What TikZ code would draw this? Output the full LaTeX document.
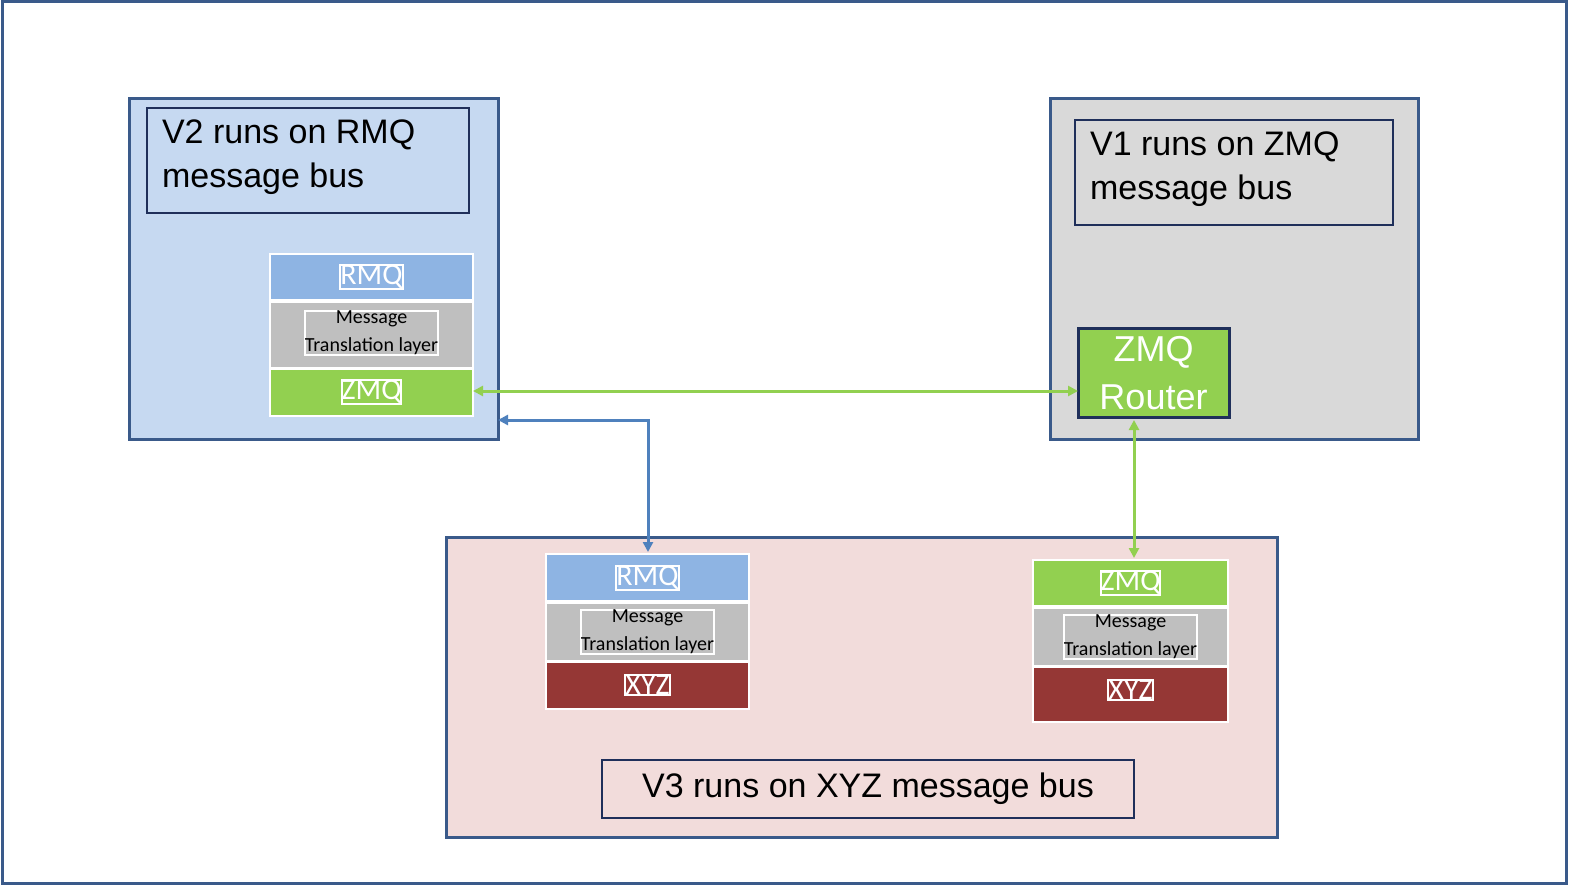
\documentclass[tikz,border=0pt]{standalone}
\usepackage{fontspec}
\setmainfont{Liberation Sans}
\newfontfamily\layerfont{Carlito}
\usetikzlibrary{arrows.meta}
\definecolor{frame}{HTML}{3A5A8A}
\definecolor{navy}{HTML}{1F2F5A}
\definecolor{vtwo}{HTML}{C6D9F1}
\definecolor{vone}{HTML}{D9D9D9}
\definecolor{vthree}{HTML}{F2DCDB}
\definecolor{rmq}{HTML}{8EB4E3}
\definecolor{trans}{HTML}{BFBFBF}
\definecolor{zmq}{HTML}{92D050}
\definecolor{xyz}{HTML}{953735}
\definecolor{link}{HTML}{4F81BD}
\tikzset{
  bus/.style={draw=frame, line width=1.5pt},
  label box/.style={draw=navy, line width=0.7pt, inner sep=0pt},
  layer/.style={draw=white, line width=1pt, inner sep=0pt, font=\layerfont\fontsize{15}{15}\selectfont, text=white},
  small layer/.style={layer, fill=trans, text=black, align=center, font=\layerfont\fontsize{10}{14}\selectfont},
  link arrow/.style={line width=1.5pt, {Triangle[length=5pt,width=5pt]}-{Triangle[length=5pt,width=5pt]}}
}
\begin{document}
\begin{tikzpicture}[x=0.5pt, y=-0.5pt]
  \useasboundingbox (0,0) rectangle (1572,887);
  \draw[bus, fill=white] (2,2) rectangle (1566,883);

  % V2 bus
  \draw[bus, fill=vtwo] (129,99) rectangle (498,439);
  \draw[label box] (147,108) rectangle (469,213);
  \node[anchor=north west, align=left, font=\fontsize{17}{22}\selectfont] (vtwo) at (155,113) {V2 runs on RMQ\\message bus};
  \path[layer, fill=rmq] (270,254) rectangle (473,300);
  \node[layer] (vtwormq) at (371.5,277) {RMQ};
  \path[small layer] (270,302) rectangle (473,368);
  \node[small layer] (vtwotr) at (371.5,333) {Message\\Translation layer};
  \path[layer, fill=zmq] (270,369) rectangle (473,416);
  \node[layer] (vtwozmq) at (371.5,392) {ZMQ};
  \coordinate (vtwozmqE) at (473,391);
  \coordinate (vtwoE) at (498,420);

  % V1 bus
  \draw[bus, fill=vone] (1050,99) rectangle (1418,439);
  \draw[label box] (1075,120) rectangle (1393,225);
  \node[anchor=north west, align=left, font=\fontsize{17}{22}\selectfont] (vone) at (1083,125) {V1 runs on ZMQ\\message bus};
  \draw[draw=navy, line width=1.5pt, fill=zmq] (1078,329) rectangle (1229,417);
  \node[text=white, align=center, font=\fontsize{18}{24}\selectfont] (router) at (1153.5,373) {ZMQ\\Router};
  \coordinate (routerW) at (1078,391);
  \coordinate (routerS) at (1134,420);

  % V3 bus
  \draw[bus, fill=vthree] (446,537) rectangle (1277,837);
  \draw[label box] (602,760) rectangle (1134,818);
  \node[font=\fontsize{17}{22}\selectfont] (vthree) at (868,789) {V3 runs on XYZ message bus};
  \path[layer, fill=rmq] (546,554) rectangle (749,601);
  \node[layer] (leftrmq) at (647.5,578) {RMQ};
  \path[small layer] (546,603) rectangle (749,661);
  \node[small layer] (lefttr) at (647.5,632) {Message\\Translation layer};
  \path[layer, fill=xyz] (546,662) rectangle (749,709);
  \node[layer] (leftxyz) at (647.5,685) {XYZ};
  \coordinate (leftN) at (648,552);
  \path[layer, fill=zmq] (1033,560) rectangle (1228,606);
  \node[layer] (rightzmq) at (1130.5,583) {ZMQ};
  \path[small layer] (1033,608) rectangle (1228,666);
  \node[small layer] (righttr) at (1130.5,637) {Message\\Translation layer};
  \path[layer, fill=xyz] (1033,667) rectangle (1228,722);
  \node[layer] (rightxyz) at (1130.5,690) {XYZ};
  \coordinate (rightN) at (1134,558);

  % links
  \draw[link arrow, draw=zmq] (vtwozmqE) -- (routerW);
  \draw[link arrow, draw=zmq] (routerS) -- (rightN);
  \draw[link arrow, draw=link] (vtwoE) -| (leftN);
\end{tikzpicture}
\end{document}
